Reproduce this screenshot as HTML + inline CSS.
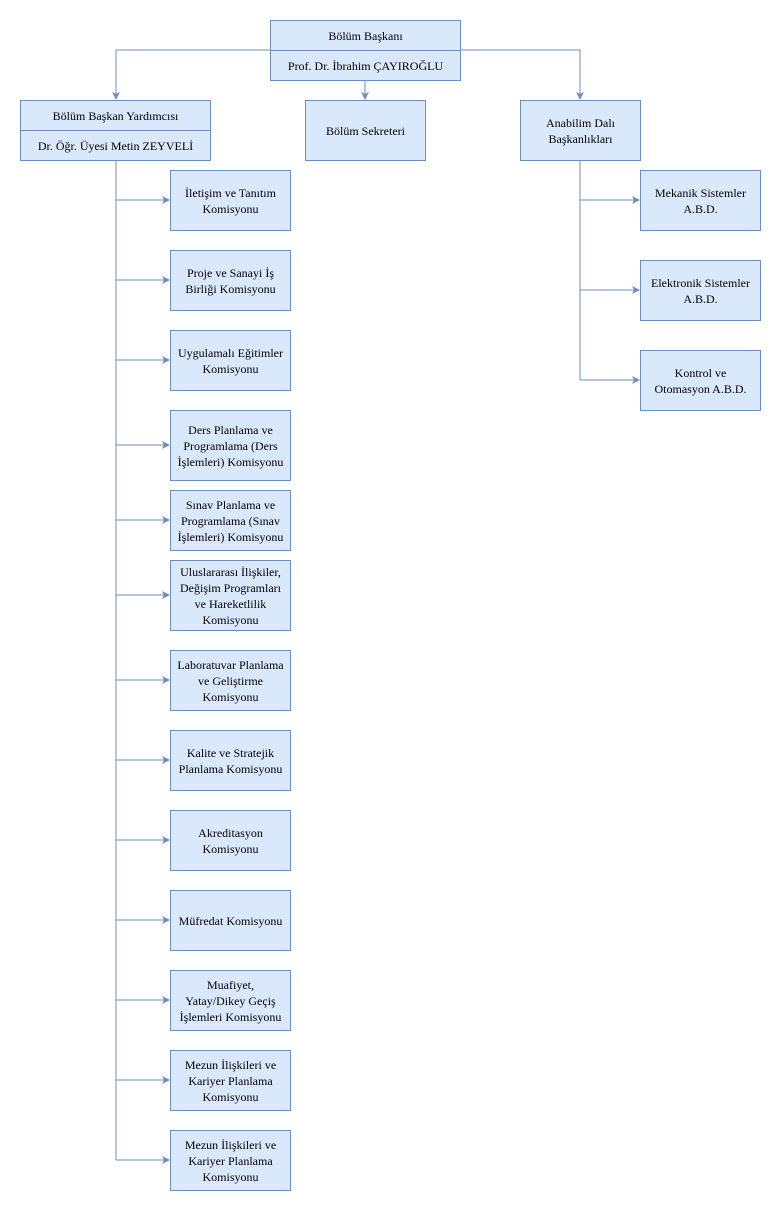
<!DOCTYPE html>
<html><head><meta charset="utf-8"><style>
body{margin:0;width:781px;height:1211px;background:#fff;position:relative;overflow:hidden;font-family:"Liberation Serif",serif;font-size:12px;color:#000}
.b{position:absolute;background:#dae8fc;border:1px solid #6c8ebf;box-sizing:border-box;display:flex;align-items:center;justify-content:center;text-align:center;line-height:16px}
svg{position:absolute;left:0;top:0}
</style></head><body>
<svg width="781" height="1211">
<defs><marker id="a" markerWidth="8" markerHeight="8" refX="7" refY="4" orient="auto" markerUnits="userSpaceOnUse"><path d="M0,0 L8,4 L0,8 L2,4 Z" fill="#6c8ebf"/></marker></defs>
<g stroke="#6c8ebf" fill="none" stroke-width="1">
<path d="M270,50H116V99" marker-end="url(#a)"/>
<path d="M460,50H580V99" marker-end="url(#a)"/>
<path d="M365,80V99" marker-end="url(#a)"/>
<path d="M116,160V1160"/>
<path d="M116,200H169" marker-end="url(#a)"/>
<path d="M116,280H169" marker-end="url(#a)"/>
<path d="M116,360H169" marker-end="url(#a)"/>
<path d="M116,445H169" marker-end="url(#a)"/>
<path d="M116,520H169" marker-end="url(#a)"/>
<path d="M116,595H169" marker-end="url(#a)"/>
<path d="M116,680H169" marker-end="url(#a)"/>
<path d="M116,760H169" marker-end="url(#a)"/>
<path d="M116,840H169" marker-end="url(#a)"/>
<path d="M116,920H169" marker-end="url(#a)"/>
<path d="M116,1000H169" marker-end="url(#a)"/>
<path d="M116,1080H169" marker-end="url(#a)"/>
<path d="M116,1160H169" marker-end="url(#a)"/>
<path d="M580,160V380"/>
<path d="M580,200H639" marker-end="url(#a)"/>
<path d="M580,290H639" marker-end="url(#a)"/>
<path d="M580,380H639" marker-end="url(#a)"/>
</g></svg>
<div class="b" style="left:270px;top:20px;width:191px;height:31px">Bölüm Başkanı</div>
<div class="b" style="left:270px;top:50px;width:191px;height:31px">Prof. Dr. İbrahim ÇAYIROĞLU</div>
<div class="b" style="left:20px;top:100px;width:191px;height:31px">Bölüm Başkan Yardımcısı</div>
<div class="b" style="left:20px;top:130px;width:191px;height:31px">Dr. Öğr. Üyesi Metin ZEYVELİ</div>
<div class="b" style="left:305px;top:100px;width:121px;height:61px">Bölüm Sekreteri</div>
<div class="b" style="left:520px;top:100px;width:121px;height:61px">Anabilim Dalı<br>Başkanlıkları</div>
<div class="b" style="left:640px;top:170px;width:121px;height:61px">Mekanik Sistemler<br>A.B.D.</div>
<div class="b" style="left:640px;top:260px;width:121px;height:61px">Elektronik Sistemler<br>A.B.D.</div>
<div class="b" style="left:640px;top:350px;width:121px;height:61px">Kontrol ve<br>Otomasyon A.B.D.</div>
<div class="b" style="left:170px;top:170px;width:121px;height:61px">İletişim ve Tanıtım<br>Komisyonu</div>
<div class="b" style="left:170px;top:250px;width:121px;height:61px">Proje ve Sanayi İş<br>Birliği Komisyonu</div>
<div class="b" style="left:170px;top:330px;width:121px;height:61px">Uygulamalı Eğitimler<br>Komisyonu</div>
<div class="b" style="left:170px;top:410px;width:121px;height:71px">Ders Planlama ve<br>Programlama (Ders<br>İşlemleri) Komisyonu</div>
<div class="b" style="left:170px;top:490px;width:121px;height:61px">Sınav Planlama ve<br>Programlama (Sınav<br>İşlemleri) Komisyonu</div>
<div class="b" style="left:170px;top:560px;width:121px;height:71px">Uluslararası İlişkiler,<br>Değişim Programları<br>ve Hareketlilik<br>Komisyonu</div>
<div class="b" style="left:170px;top:650px;width:121px;height:61px">Laboratuvar Planlama<br>ve Geliştirme<br>Komisyonu</div>
<div class="b" style="left:170px;top:730px;width:121px;height:61px">Kalite ve Stratejik<br>Planlama Komisyonu</div>
<div class="b" style="left:170px;top:810px;width:121px;height:61px">Akreditasyon<br>Komisyonu</div>
<div class="b" style="left:170px;top:890px;width:121px;height:61px">Müfredat Komisyonu</div>
<div class="b" style="left:170px;top:970px;width:121px;height:61px">Muafiyet,<br>Yatay/Dikey Geçiş<br>İşlemleri Komisyonu</div>
<div class="b" style="left:170px;top:1050px;width:121px;height:61px">Mezun İlişkileri ve<br>Kariyer Planlama<br>Komisyonu</div>
<div class="b" style="left:170px;top:1130px;width:121px;height:61px">Mezun İlişkileri ve<br>Kariyer Planlama<br>Komisyonu</div>
</body></html>
